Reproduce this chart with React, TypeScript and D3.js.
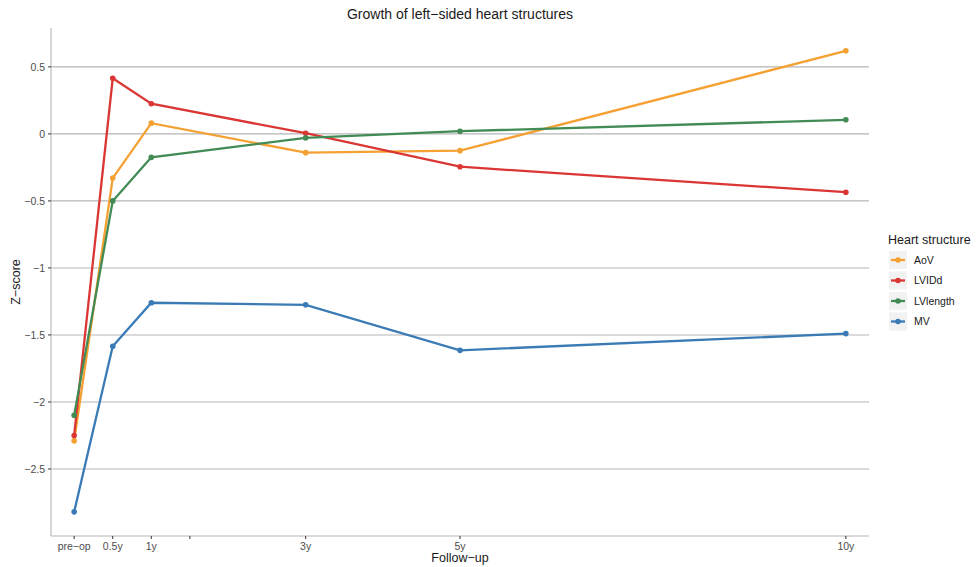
import React from "react";
import * as d3 from "d3";

// Follow-up time in years and the tick labels shown on the x axis
const timepoints = [0, 0.5, 1, 3, 5, 10];
const xTickValues = [0, 0.5, 1, 1.5, 3, 5, 10];
const xTickLabels = ["pre\u2212op", "0.5y", "1y", "", "3y", "5y", "10y"];
const yTickValues = [0.5, 0, -0.5, -1, -1.5, -2, -2.5];

const structures = ["AoV", "LVIDd", "LVlength", "MV"];
const colors = ["#f5a032", "#da3634", "#428b55", "#3a7bb6"];

const aov = [-2.29, -0.33, 0.08, -0.14, -0.125, 0.62];
const lvidd = [-2.25, 0.415, 0.225, 0.005, -0.245, -0.435];
const lvlength = [-2.1, -0.5, -0.175, -0.03, 0.02, 0.105];
const mv = [-2.82, -1.585, -1.26, -1.275, -1.615, -1.49];

const seriesValues = [aov, lvidd, lvlength, mv];

const W = 978;
const H = 567;
const panel = { left: 51, right: 869, top: 28, bottom: 536 };

export default function App() {
  const x = d3.scaleLinear().domain([-0.3, 10.3]).range([panel.left, panel.right]);
  const y = d3.scaleLinear().domain([-3.0, 0.79]).range([panel.bottom, panel.top]);
  const line = d3
    .line<[number, number]>()
    .x((d) => x(d[0]))
    .y((d) => y(d[1]));
  const fmt = (v: number) => (v < 0 ? "\u2212" + String(Math.abs(v)) : String(v));
  const font = "'Liberation Sans', Arial, Helvetica, sans-serif";
  const tickColor = "#4d4d4d";
  const gridColor = "#b5b5b5";

  const legendX = 889;
  const legendY0 = 251;
  const keyH = 20.5;

  return (
    <svg width={W} height={H} style={{ position: "absolute", left: 0, top: 0 }} fontFamily={font}>
      <rect width={W} height={H} fill="#ffffff" />
      {/* horizontal grid */}
      {yTickValues.map((v) => (
        <line key={v} x1={panel.left} x2={panel.right} y1={y(v)} y2={y(v)} stroke={gridColor} strokeWidth={1.1} />
      ))}
      {/* axes */}
      <line x1={panel.left} x2={panel.left} y1={panel.top} y2={panel.bottom} stroke={gridColor} strokeWidth={1.1} />
      <line x1={panel.left} x2={panel.right} y1={panel.bottom} y2={panel.bottom} stroke={gridColor} strokeWidth={1.1} />
      {yTickValues.map((v) => (
        <g key={"yt" + v}>
          <line x1={panel.left - 3} x2={panel.left} y1={y(v)} y2={y(v)} stroke="#333" strokeWidth={1} />
          <text x={panel.left - 6} y={y(v)} dy="0.35em" textAnchor="end" fontSize={10.5} fill={tickColor}>
            {fmt(v)}
          </text>
        </g>
      ))}
      {xTickValues.map((v, i) => (
        <g key={"xt" + v}>
          <line x1={x(v)} x2={x(v)} y1={panel.bottom} y2={panel.bottom + 3} stroke="#333" strokeWidth={1} />
          <text x={x(v)} y={panel.bottom + 14} textAnchor="middle" fontSize={10.5} fill={tickColor}>
            {xTickLabels[i]}
          </text>
        </g>
      ))}
      {/* series */}
      {seriesValues.map((vals, si) => {
        const pts = timepoints.map((t, i) => [t, vals[i]] as [number, number]);
        return (
          <g key={structures[si]}>
            <path d={line(pts) || ""} fill="none" stroke={colors[si]} strokeWidth={2.3} />
            {pts.map((p, i) => (
              <circle key={i} cx={x(p[0])} cy={y(p[1])} r={2.8} fill={colors[si]} />
            ))}
          </g>
        );
      })}
      {/* titles */}
      <text x={(panel.left + panel.right) / 2} y={19} textAnchor="middle" fontSize={14} fill="#1a1a1a">
        Growth of left{"\u2212"}sided heart structures
      </text>
      <text x={(panel.left + panel.right) / 2} y={562} textAnchor="middle" fontSize={12.5} fill="#1a1a1a">
        Follow{"\u2212"}up
      </text>
      <text
        transform={`translate(20, ${(panel.top + panel.bottom) / 2}) rotate(-90)`}
        textAnchor="middle"
        fontSize={12.5}
        fill="#1a1a1a"
      >
        Z{"\u2212"}score
      </text>
      {/* legend */}
      <text x={legendX - 1} y={244} fontSize={12.5} fill="#1a1a1a">
        Heart structure
      </text>
      {structures.map((s, i) => {
        const ky = legendY0 + i * keyH;
        return (
          <g key={"lg" + s}>
            <rect x={legendX} y={ky} width={18} height={18} fill="#f2f2f2" />
            <line x1={legendX + 2} x2={legendX + 16} y1={ky + 9} y2={ky + 9} stroke={colors[i]} strokeWidth={2.3} />
            <circle cx={legendX + 9} cy={ky + 9} r={2.8} fill={colors[i]} />
            <text x={legendX + 25} y={ky + 9} dy="0.35em" fontSize={10.5} fill="#1a1a1a">
              {s}
            </text>
          </g>
        );
      })}
    </svg>
  );
}
